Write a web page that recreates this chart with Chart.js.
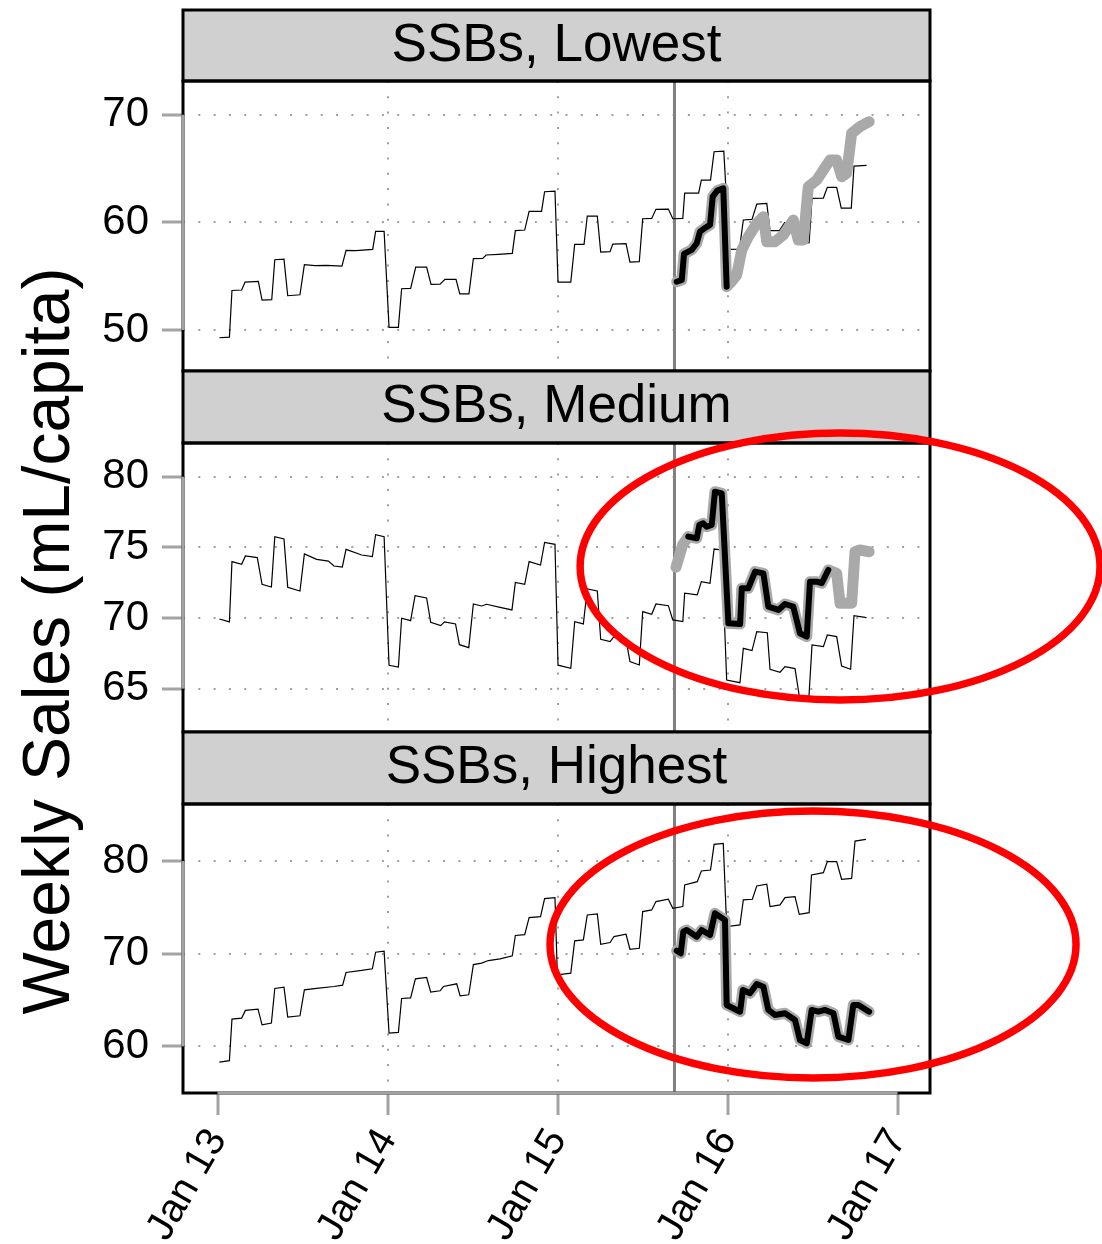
<!DOCTYPE html>
<html>
<head>
<meta charset="utf-8">
<title>Weekly SSB sales</title>
<script src="https://cdn.jsdelivr.net/npm/chart.js@4.4.1/dist/chart.umd.min.js"></script>
<style>
  html, body { margin: 0; padding: 0; background: #fff; }
  #wrap { position: relative; width: 1102px; height: 1244px; overflow: hidden;
          font-family: 'Liberation Sans', Arial, sans-serif; }
  #wrap canvas { position: absolute; left: 0; top: 0; }
  .strip { position: absolute; left: 183px; width: 747px; height: 71px; line-height: 71px;
           text-align: center; font-size: 53px; color: #000; z-index: 5; white-space: nowrap; }
  #ytitle { position: absolute; left: 46px; top: 641px; width: 900px; height: 66px; line-height: 66px;
            text-align: center; font-size: 66px; color: #000; white-space: nowrap; z-index: 5;
            transform: translate(-50%, -50%) rotate(-90deg); }
</style>
</head>
<body>
<div id="wrap">
  <canvas id="c1" width="1102" height="1244"></canvas>
  <canvas id="c2" width="1102" height="1244"></canvas>
  <canvas id="c3" width="1102" height="1244"></canvas>
  <div class="strip" style="top:6.6px">SSBs, Lowest</div>
  <div class="strip" style="top:367.6px">SSBs, Medium</div>
  <div class="strip" style="top:728.6px">SSBs, Highest</div>
  <div id="ytitle">Weekly Sales (mL/capita)</div>
</div>
<script>
// x in fractional years (2013.0 = Jan 13)
const xTickValues = [2013, 2014, 2015, 2016, 2017];
const xTickLabels = ['Jan 13', 'Jan 14', 'Jan 15', 'Jan 16', 'Jan 17'];
const xGridYears = [2014, 2015, 2016];
const interventionStart = 2015.688;

// --- SSBs, Lowest ---
const lowestTicks = [50, 60, 70];
const lowestObsT = [2013.011, 2013.07, 2013.085, 2013.142, 2013.162, 2013.24, 2013.262, 2013.319, 2013.337, 2013.391,
  2013.413, 2013.485, 2013.511, 2013.574, 2013.642, 2013.732, 2013.756, 2013.813, 2013.913, 2013.93, 2013.98,
  2014.009, 2014.064, 2014.083, 2014.136, 2014.166, 2014.23, 2014.256, 2014.309, 2014.338, 2014.403, 2014.425,
  2014.479, 2014.505, 2014.56, 2014.58, 2014.652, 2014.734, 2014.752, 2014.807, 2014.833, 2014.906, 2014.924,
  2014.985, 2015.003, 2015.078, 2015.101, 2015.156, 2015.175, 2015.234, 2015.254, 2015.309, 2015.325, 2015.403,
  2015.426, 2015.481, 2015.501, 2015.554, 2015.579, 2015.652, 2015.678, 2015.737, 2015.748, 2015.83, 2015.846,
  2015.9, 2015.921, 2015.978, 2016.011, 2016.07, 2016.093, 2016.144, 2016.172, 2016.231, 2016.25, 2016.305,
  2016.336, 2016.399, 2016.422, 2016.48, 2016.497, 2016.564, 2016.587, 2016.642, 2016.669, 2016.728, 2016.744, 2016.818];
const lowestObsV = [49.29, 49.35, 53.68, 53.72, 54.46, 54.52, 52.79, 52.82, 56.53, 56.59,
  53.19, 53.28, 56.07, 55.98, 56.01, 55.94, 57.40, 57.37, 57.49, 59.16, 59.16,
  50.25, 50.25, 53.84, 53.87, 55.85, 55.85, 54.24, 54.27, 54.71, 54.71, 53.37,
  53.37, 56.63, 56.66, 56.97, 57.03, 57.12, 59.23, 59.29, 61.02, 61.02, 62.85,
  62.91, 54.46, 54.46, 57.96, 57.96, 60.59, 60.59, 57.24, 57.28, 57.99, 58.02,
  56.32, 56.35, 60.34, 60.37, 61.21, 61.24, 60.34, 60.37, 62.72, 62.72, 63.93,
  63.93, 66.56, 66.62, 57.49, 57.52, 60.22, 60.28, 61.70, 61.76, 59.23, 59.23,
  59.97, 59.97, 58.05, 58.11, 62.23, 62.26, 63.25, 63.25, 61.33, 61.33, 65.23, 65.29];
const lowestBlackT = [2015.701, 2015.731, 2015.744, 2015.789, 2015.819, 2015.838, 2015.868, 2015.897, 2015.913, 2015.94, 2015.975, 2015.995];
const lowestBlackV = [54.49, 54.65, 57.07, 57.44, 58.06, 59.14, 59.5, 59.76, 62.39, 62.95, 63.17, 54.03];
const lowestGreyTailT = [2016.015, 2016.054, 2016.084, 2016.122, 2016.172, 2016.211, 2016.231, 2016.279, 2016.328, 2016.387,
  2016.416, 2016.446, 2016.475, 2016.525, 2016.564, 2016.603, 2016.642, 2016.672, 2016.701, 2016.73, 2016.779, 2016.833];
const lowestGreyTailV = [54.35, 55.12, 57.44, 58.67, 59.91, 60.53, 58.21, 58.21, 58.83, 60.22,
  58.37, 58.37, 63.31, 63.94, 64.87, 65.79, 65.79, 64.24, 64.56, 68.27, 68.89, 69.35];

// --- SSBs, Medium ---
const mediumTicks = [65, 70, 75, 80];
const mediumObsT = [2013.011, 2013.07, 2013.085, 2013.142, 2013.164, 2013.234, 2013.262, 2013.317, 2013.337, 2013.391,
  2013.413, 2013.485, 2013.511, 2013.583, 2013.652, 2013.685, 2013.734, 2013.756, 2013.848, 2013.911, 2013.93, 2013.98,
  2014.009, 2014.064, 2014.083, 2014.136, 2014.162, 2014.23, 2014.254, 2014.313, 2014.335, 2014.4, 2014.423, 2014.478,
  2014.505, 2014.554, 2014.583, 2014.662, 2014.732, 2014.752, 2014.807, 2014.833, 2014.9, 2014.924, 2014.985,
  2015.003, 2015.078, 2015.101, 2015.152, 2015.175, 2015.234, 2015.254, 2015.309, 2015.332, 2015.403, 2015.426,
  2015.481, 2015.501, 2015.554, 2015.579, 2015.652, 2015.678, 2015.737, 2015.748, 2015.822, 2015.846, 2015.897,
  2015.921, 2015.966, 2015.995, 2016.073, 2016.093, 2016.144, 2016.172, 2016.234, 2016.25, 2016.309, 2016.338,
  2016.397, 2016.425, 2016.478, 2016.497, 2016.564, 2016.587, 2016.642, 2016.671, 2016.724, 2016.744, 2016.818];
const mediumObsV = [69.93, 69.72, 73.99, 73.8, 74.39, 74.27, 72.38, 72.19, 75.75, 75.59,
  72.17, 71.91, 74.53, 74.15, 74.03, 73.68, 73.61, 74.86, 74.46, 74.34, 75.9, 75.75,
  66.65, 66.53, 69.98, 69.81, 71.58, 71.42, 69.69, 69.46, 69.72, 69.58, 68.11, 67.9,
  70.99, 70.85, 70.97, 70.75, 70.57, 72.52, 72.38, 73.99, 73.75, 75.35, 75.21,
  66.66, 66.44, 69.74, 69.58, 72.05, 71.91, 68.49, 68.33, 68.68, 68.49, 66.91,
  66.67, 70.45, 70.26, 70.99, 70.87, 69.86, 69.74, 71.75, 71.63, 72.57, 72.45,
  74.88, 74.81, 65.61, 65.42, 67.85, 67.69, 69.03, 68.96, 66.37, 66.16, 66.56,
  66.42, 64.25, 64.25, 68.09, 67.97, 68.8, 68.68, 66.6, 66.37, 70.17, 70.02];
const mediumBlackT = [2015.769, 2015.819, 2015.834, 2015.857, 2015.877, 2015.907, 2015.926, 2015.966, 2016.005, 2016.074,
  2016.084, 2016.122, 2016.162, 2016.211, 2016.24, 2016.299, 2016.338, 2016.387, 2016.426, 2016.466,
  2016.485, 2016.525, 2016.554, 2016.593];
const mediumBlackV = [75.76, 75.64, 76.58, 76.7, 76.46, 76.58, 78.94, 78.82, 69.62, 69.57,
  72.1, 72.1, 73.28, 73.16, 70.8, 70.57, 70.99, 70.8, 68.92, 68.68,
  72.57, 72.57, 72.46, 73.4];
const mediumGreyHeadT = [2015.697, 2015.736];
const mediumGreyHeadV = [73.59, 75.17];
const mediumGreyTailT = [2016.642, 2016.662, 2016.73, 2016.75, 2016.779, 2016.833];
const mediumGreyTailV = [73.16, 71.04, 71.04, 74.69, 74.81, 74.69];

// --- SSBs, Highest ---
const highestTicks = [60, 70, 80];
const highestObsT = [2013.011, 2013.07, 2013.085, 2013.142, 2013.164, 2013.238, 2013.262, 2013.317, 2013.337, 2013.391,
  2013.413, 2013.485, 2013.511, 2013.583, 2013.685, 2013.736, 2013.756, 2013.848, 2013.911, 2013.93, 2013.98,
  2014.009, 2014.064, 2014.083, 2014.136, 2014.164, 2014.23, 2014.254, 2014.309, 2014.329, 2014.407, 2014.427,
  2014.478, 2014.505, 2014.554, 2014.593, 2014.662, 2014.734, 2014.752, 2014.807, 2014.833, 2014.9, 2014.924,
  2014.985, 2014.999, 2015.078, 2015.101, 2015.152, 2015.175, 2015.234, 2015.254, 2015.309, 2015.332, 2015.403,
  2015.426, 2015.481, 2015.501, 2015.554, 2015.579, 2015.652, 2015.678, 2015.737, 2015.748, 2015.822, 2015.846,
  2015.9, 2015.921, 2015.975, 2015.995, 2016.073, 2016.093, 2016.146, 2016.172, 2016.231, 2016.25, 2016.309,
  2016.338, 2016.397, 2016.422, 2016.48, 2016.494, 2016.564, 2016.587, 2016.642, 2016.671, 2016.73, 2016.75, 2016.814];
const highestObsV = [58.31, 58.46, 62.94, 63.05, 63.88, 64.02, 62.33, 62.51, 66.25, 66.39,
  63.16, 63.3, 66.1, 66.25, 66.46, 66.61, 67.97, 68.19, 68.37, 70.16, 70.27,
  61.44, 61.51, 65.17, 65.24, 67.29, 67.43, 65.85, 66.0, 66.46, 66.75, 65.46,
  65.57, 68.83, 68.98, 69.26, 69.44, 69.77, 71.96, 72.06, 73.9, 74.0, 75.94,
  76.05, 67.72, 67.9, 71.38, 71.49, 74.18, 74.29, 71.02, 71.2, 71.85, 72.1,
  70.48, 70.59, 74.54, 74.72, 75.62, 75.87, 74.9, 75.08, 77.41, 77.77, 78.92,
  79.03, 81.8, 81.9, 72.93, 73.11, 75.8, 75.87, 77.31, 77.49, 75.08, 75.26,
  76.05, 76.16, 74.25, 74.43, 78.49, 78.74, 79.93, 79.93, 78.03, 78.13, 82.15, 82.33];
const highestBlackT = [2015.701, 2015.725, 2015.74, 2015.76, 2015.819, 2015.848, 2015.897, 2015.926, 2015.956, 2015.985,
  2015.995, 2016.074, 2016.09, 2016.132, 2016.172, 2016.211, 2016.24, 2016.279, 2016.338, 2016.397,
  2016.426, 2016.466, 2016.495, 2016.534, 2016.574, 2016.623, 2016.652, 2016.711, 2016.74, 2016.77, 2016.833];
const highestBlackV = [70.32, 70.04, 72.38, 72.56, 71.84, 72.56, 72.02, 74.36, 73.99, 73.64,
  64.47, 63.74, 66.08, 65.73, 66.73, 66.44, 63.93, 63.39, 63.57, 62.85,
  60.69, 60.33, 63.93, 63.74, 63.93, 63.57, 61.05, 60.69, 64.47, 64.47, 63.74];

const X_MIN = 2012.797, X_MAX = 2017.191;
const DOT = '#a0a0a0';
const AXIS_GREY = '#a3a3a3';

const toXY = (t, v) => t.map((x, i) => ({ x, y: v[i] }));

const panels = [
  { id: 'c1', stripTop: 10, top: 81, bottom: 371, yMin: 46.20, yMax: 73.13, ticks: lowestTicks,
    obs: toXY(lowestObsT, lowestObsV),
    black: toXY(lowestBlackT, lowestBlackV),
    grey: toXY(lowestBlackT.concat(lowestGreyTailT), lowestBlackV.concat(lowestGreyTailV)),
    ellipse: null },
  { id: 'c2', stripTop: 371, top: 443, bottom: 732, yMin: 61.93, yMax: 82.385, ticks: mediumTicks,
    obs: toXY(mediumObsT, mediumObsV),
    black: toXY(mediumBlackT, mediumBlackV),
    grey: toXY(mediumGreyHeadT.concat(mediumBlackT, mediumGreyTailT), mediumGreyHeadV.concat(mediumBlackV, mediumGreyTailV)),
    ellipse: { cx: 2016.662, cy: 73.64, rx: 1.529, ry: 9.45 } },
  { id: 'c3', stripTop: 732, top: 804, bottom: 1093, yMin: 54.97, yMax: 86.15, ticks: highestTicks,
    obs: toXY(highestObsT, highestObsV),
    black: toXY(highestBlackT, highestBlackV),
    grey: toXY(highestBlackT, highestBlackV),
    ellipse: { cx: 2016.503, cy: 70.99, rx: 1.547, ry: 14.4 } }
];

// strip, frame, grey axis segments, intervention line and the red ellipses
const decor = {
  id: 'decor',
  beforeDatasetsDraw(chart, args, o) {
    const { ctx, chartArea: a, scales: { x } } = chart;
    const px = x.getPixelForValue(interventionStart);
    ctx.save();
    ctx.strokeStyle = '#808080';
    ctx.lineWidth = 3;
    ctx.beginPath();
    ctx.moveTo(px, a.top);
    ctx.lineTo(px, a.bottom);
    ctx.stroke();
    ctx.restore();
  },
  afterDraw(chart, args, o) {
    const { ctx, chartArea: a, scales: { x, y } } = chart;
    const w = a.right - a.left;
    ctx.save();
    ctx.fillStyle = '#d0d0d0';
    ctx.fillRect(a.left, o.stripTop, w, a.top - o.stripTop);
    ctx.strokeStyle = '#000';
    ctx.lineWidth = 3;
    ctx.strokeRect(a.left, o.stripTop, w, a.top - o.stripTop);
    ctx.strokeRect(a.left, a.top, w, a.bottom - a.top);

    ctx.strokeStyle = AXIS_GREY;
    ctx.lineWidth = 3;
    const yt = y.ticks;
    ctx.beginPath();
    ctx.moveTo(a.left, y.getPixelForValue(yt[0].value));
    ctx.lineTo(a.left, y.getPixelForValue(yt[yt.length - 1].value));
    ctx.stroke();
    if (o.bottomAxis) {
      ctx.beginPath();
      ctx.moveTo(x.getPixelForValue(xTickValues[0]), a.bottom);
      ctx.lineTo(x.getPixelForValue(xTickValues[xTickValues.length - 1]), a.bottom);
      ctx.stroke();
    }

    if (o.ellipse) {
      const e = o.ellipse;
      const cx = x.getPixelForValue(e.cx), cy = y.getPixelForValue(e.cy);
      const rx = Math.abs(x.getPixelForValue(e.cx + e.rx) - cx);
      const ry = Math.abs(y.getPixelForValue(e.cy + e.ry) - cy);
      ctx.strokeStyle = '#ff0000';
      ctx.lineWidth = 7.5;
      ctx.beginPath();
      ctx.ellipse(cx, cy, rx, ry, 0, 0, Math.PI * 2);
      ctx.stroke();
    }
    ctx.restore();
  }
};

Chart.defaults.font.family = "'Liberation Sans', Arial, sans-serif";
Chart.defaults.color = '#000';

panels.forEach((p, i) => {
  const isBottom = i === panels.length - 1;
  const lineBase = { pointRadius: 0, tension: 0, fill: false };
  new Chart(document.getElementById(p.id), {
    type: 'line',
    data: {
      datasets: [
        { ...lineBase, data: p.black, borderColor: '#000', borderWidth: 6,
          borderCapStyle: 'round', borderJoinStyle: 'round', order: 0 },
        { ...lineBase, data: p.grey, borderColor: '#a9a9a9', borderWidth: 11,
          borderCapStyle: 'round', borderJoinStyle: 'round', order: 1 },
        { ...lineBase, data: p.obs, borderColor: '#000', borderWidth: 1.2, order: 2 }
      ]
    },
    plugins: [decor],
    options: {
      responsive: false,
      animation: false,
      devicePixelRatio: 1,
      events: [],
      layout: { padding: { left: 0, right: 1102 - 930, top: p.top, bottom: isBottom ? 0 : 1244 - p.bottom } },
      plugins: {
        legend: { display: false },
        tooltip: { enabled: false },
        decor: { stripTop: p.stripTop, ellipse: p.ellipse, bottomAxis: isBottom }
      },
      scales: {
        x: {
          type: 'linear', min: X_MIN, max: X_MAX,
          afterFit: s => { s.height = isBottom ? 1244 - p.bottom : 0; },
          afterBuildTicks: s => { s.ticks = xTickValues.map(v => ({ value: v })); },
          grid: {
            color: c => (c.tick && xGridYears.includes(c.tick.value)) ? DOT : 'rgba(0,0,0,0)',
            lineWidth: 2, drawTicks: isBottom, tickLength: 22, tickWidth: 3,
            tickColor: AXIS_GREY, tickBorderDash: []
          },
          border: { display: false, dash: [2, 13.3] },
          ticks: {
            display: isBottom, autoSkip: false, minRotation: 60, maxRotation: 60, padding: 6,
            font: { size: 40 }, color: '#000',
            callback: v => xTickLabels[xTickValues.indexOf(v)]
          }
        },
        y: {
          min: p.yMin, max: p.yMax,
          afterFit: s => { s.width = 183; },
          afterBuildTicks: s => { s.ticks = p.ticks.map(v => ({ value: v })); },
          grid: { color: DOT, lineWidth: 2, tickLength: 21, tickWidth: 3, tickColor: AXIS_GREY, tickBorderDash: [] },
          border: { display: false, dash: [2, 13.3] },
          ticks: { padding: 13, font: { size: 42 }, color: '#000' }
        }
      }
    }
  });
});
</script>
</body>
</html>
